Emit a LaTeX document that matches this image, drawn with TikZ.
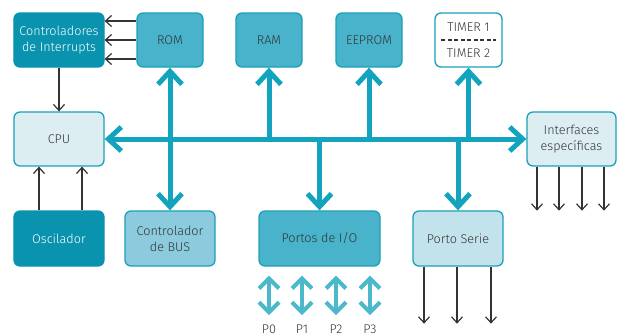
\documentclass[tikz,border=0pt]{standalone}
\usepackage{fontspec}
\setmainfont{Fira Sans}[UprightFont={* Light}]
\usetikzlibrary{arrows.meta,calc}
\definecolor{tdark}{HTML}{0A93AE}
\definecolor{tmid}{HTML}{48B3CA}
\definecolor{tpale}{HTML}{8BCBDD}
\definecolor{tlight}{HTML}{C3E3EC}
\definecolor{tlite}{HTML}{DDEEF3}
\definecolor{tline}{HTML}{1BA0BB}
\definecolor{tbus}{HTML}{12A4BE}
\definecolor{tport}{HTML}{4BB8CC}
\definecolor{ink}{HTML}{333333}
\tikzset{
  blk/.style={draw=tline,line width=1.3bp,rounded corners=6bp,text=ink,align=center,
    minimum width=90bp,minimum height=54bp,inner sep=2bp},
  dk/.style={blk,fill=tdark,draw=tdark,text=white},
  md/.style={blk,fill=tmid},
  bus/.style={tbus,line width=5bp,>={Straight Barb[length=13bp,width=24bp]}},
  sig/.style={ink,line width=1.2bp,>={Straight Barb[length=6bp,width=11bp]}},
  prt/.style={tport,line width=4bp,>={Straight Barb[length=10bp,width=20bp]}},
  lbl/.style={anchor=north,inner sep=0pt,text=ink}
}

\begin{document}
\begin{tikzpicture}[x=1bp,y=-1bp,font=\fontsize{12.7}{16}\selectfont]
  \useasboundingbox (0,0) rectangle (622,335);
  \clip (0,0) rectangle (622,335);
  % blocks
  \node[dk] (irq) at (59,40) {Controladores\\de Interrupts};
  \node[md,minimum width=66bp] (rom) at (170,40) {ROM};
  \node[md,minimum width=66bp] (ram) at (269,40) {RAM};
  \node[md,minimum width=66bp] (eep) at (369,40) {EEPROM};
  \node[blk,fill=white,minimum width=67bp] (tmr) at (468.5,40) {};
  \node[blk,fill=tlite] (cpu) at (59,139) {CPU};
  \node[blk,fill=tlite,minimum width=89bp] (ifc) at (571.5,139) {Interfaces\\específicas};
  \node[dk,minimum height=55bp] (osc) at (59,238.5) {Oscilador};
  \node[blk,fill=tpale,minimum height=55bp] (cbus) at (170,238.5) {Controlador\\de BUS};
  \node[md,minimum width=121bp,minimum height=55bp] (pio) at (319.5,238.5) {Portos de I/O};
  \node[blk,fill=tlight,minimum height=55bp] (ser) at (458,238.5) {Porto Serie};
  \node[text=ink] (t1) at (468.5,27) {TIMER 1};
  \node[text=ink] (t2) at (468.5,53) {TIMER 2};
  \draw[ink,line width=1.3bp,dash pattern=on 4bp off 2.5bp] ($(tmr.west)+(7,0)$) -- ($(tmr.east)+(-7,0)$);
  % bus
  \draw[bus,<->] (cpu.east) -- (ifc.west);
  \draw[bus,<->] (rom.south) -- (cbus.north);
  \foreach \b in {ram,eep,tmr} \draw[bus,->] (\b |- cpu) -- (\b.south);
  \foreach \b in {pio,ser} \draw[bus,->] (\b |- cpu) -- (\b.north);
  % control lines
  \foreach \d in {-19,0,19} \draw[sig,->] ($(rom.west)+(0,\d)$) -- ($(irq.east)+(0,\d)$);
  \draw[sig,->] (irq) -- (cpu);
  \foreach \d in {-20,23} \draw[sig,->] ($(osc.north)+(\d,0)$) -- ($(cpu.south)+(\d,0)$);
  \foreach \d [count=\i] in {-34.5,-12.5,10.5,32.5} {
    \coordinate (if\i) at ($(ifc.south)+(\d,44)$);
    \draw[sig,->] (ifc.south -| if\i) -- (if\i);}
  \foreach \d [count=\i] in {-34,-1,33} {
    \coordinate (sr\i) at ($(ser.south)+(\d,57)$);
    \draw[sig,->] (ser.south -| sr\i) -- (sr\i);}
  % ports
  \foreach \x [count=\i from 0] in {269,302,336,370} {
    \node[lbl] (p\i) at (\x,325) {P\i};
    \draw[prt,<->] ($(pio.south -| p\i)+(0,9)$) -- ($(p\i.north)+(0,-10)$);}
\end{tikzpicture}
\end{document}
